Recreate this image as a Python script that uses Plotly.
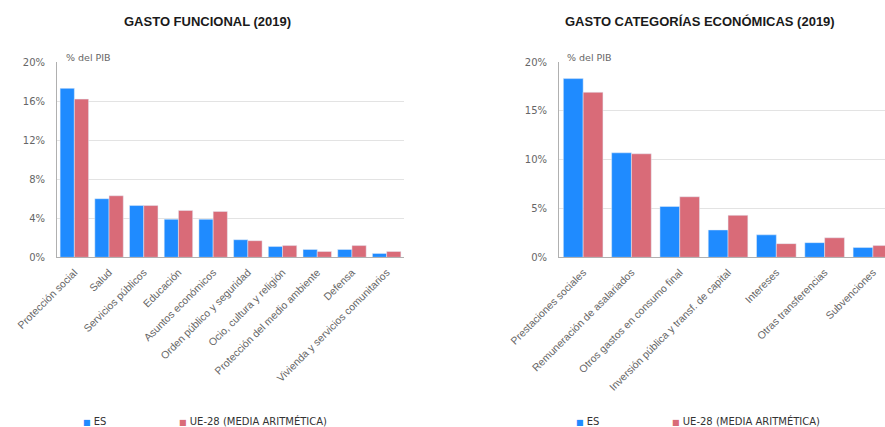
import plotly.graph_objects as go

# Functional spending, % of GDP (2019)
func_categories = [
    "Protección social", "Salud", "Servicios públicos", "Educación",
    "Asuntos económicos", "Orden público y seguridad", "Ocio, cultura y religión",
    "Protección del medio ambiente", "Defensa", "Vivienda y servicios comunitarios",
]
func_es = [17.3, 6.0, 5.3, 3.9, 3.9, 1.8, 1.1, 0.8, 0.8, 0.4]
func_ue = [16.2, 6.3, 5.3, 4.8, 4.7, 1.7, 1.2, 0.6, 1.2, 0.6]

# Spending by economic category, % of GDP (2019)
econ_categories = [
    "Prestaciones sociales", "Remuneración de asalariados",
    "Otros gastos en consumo final", "Inversión pública y transf. de capital",
    "Intereses", "Otras transferencias", "Subvenciones",
]
econ_es = [18.3, 10.7, 5.2, 2.8, 2.3, 1.5, 1.0]
econ_ue = [16.9, 10.6, 6.2, 4.3, 1.4, 2.0, 1.2]

func_ticks = [0, 4, 8, 12, 16, 20]
econ_ticks = [0, 5, 10, 15, 20]

series_names = ["ES", "UE-28 (MEDIA ARITMÉTICA)"]
BLUE = "#1f8bff"
RED = "#d96b78"
FONT = "Liberation Sans, Arial, sans-serif"
WIDE_FONT = "DejaVu Sans, Verdana, sans-serif"
TICK_COLOR = "#666666"

W, H = 885, 427

fig = go.Figure()

fig.add_trace(go.Bar(x=func_categories, y=func_es, name=series_names[0], showlegend=False,
                     marker_color=BLUE, xaxis="x", yaxis="y"))
fig.add_trace(go.Bar(x=func_categories, y=func_ue, name=series_names[1], showlegend=False,
                     marker_color=RED, xaxis="x", yaxis="y"))
fig.add_trace(go.Bar(x=econ_categories, y=econ_es, name=series_names[0], showlegend=False,
                     marker_color=BLUE, xaxis="x2", yaxis="y2"))
fig.add_trace(go.Bar(x=econ_categories, y=econ_ue, name=series_names[1], showlegend=False,
                     marker_color=RED, xaxis="x2", yaxis="y2"))

# Legend entries: a small coloured square glyph right before the series name,
# one legend box per entry so each can be placed under its chart
legend_keys = [
    ("legend", series_names[0], BLUE, "x", "y"),
    ("legend2", series_names[1], RED, "x", "y"),
    ("legend3", series_names[0], BLUE, "x2", "y2"),
    ("legend4", series_names[1], RED, "x2", "y2"),
]
for leg, name, color, xa, ya in legend_keys:
    label = f"<span style='color:{color};font-size:8px'>■</span> {name}"
    fig.add_trace(go.Scatter(x=[None], y=[None], mode="markers", name=label,
                             marker=dict(symbol="square", size=0.1, color="rgba(0,0,0,0)"),
                             xaxis=xa, yaxis=ya, legend=leg, showlegend=True))

y_dom = [(H - 257.3) / H, (H - 62.0) / H]

xaxis_common = dict(
    tickangle=-45, tickfont=dict(size=10.5, color=TICK_COLOR, family=FONT),
    showline=True, linecolor="#b0b0b0", linewidth=1, showgrid=False,
    ticks="", fixedrange=True, automargin=False, ticklabelstandoff=4,
)
yaxis_common = dict(
    range=[0, 20], showgrid=True, gridcolor="#e3e3e3",
    showline=True, linecolor="#b0b0b0", linewidth=1, zeroline=False,
    tickfont=dict(size=10, color=TICK_COLOR, family=WIDE_FONT), ticks="",
    ticklabelstandoff=9, domain=y_dom, automargin=False, tickmode="array",
)

legend_common = dict(
    orientation="h", xanchor="left", yanchor="middle", itemwidth=30,
    font=dict(size=10, color="#333333", family=WIDE_FONT), bgcolor="rgba(0,0,0,0)",
    tracegroupgap=0,
)
leg_y = (H - 421) / H

fig.update_layout(
    width=W, height=H,
    margin=dict(l=0, r=0, t=0, b=0, autoexpand=False),
    paper_bgcolor="white", plot_bgcolor="white",
    barmode="group", bargap=0.18, bargroupgap=0.0,
    font=dict(family=FONT, color="#333333"),
    xaxis=dict(domain=[57 / W, 404 / W], range=[-0.5, 9.5], **xaxis_common),
    yaxis=dict(anchor="x", tickvals=func_ticks, ticktext=[f"{v}%" for v in func_ticks],
               **yaxis_common),
    xaxis2=dict(domain=[559 / W, 1.0], range=[-0.5, 6.25], anchor="y2", **xaxis_common),
    yaxis2=dict(anchor="x2", tickvals=econ_ticks, ticktext=[f"{v}%" for v in econ_ticks],
                **yaxis_common),
    legend=dict(x=43 / W, y=leg_y, **legend_common),
    legend2=dict(x=139 / W, y=leg_y, **legend_common),
    legend3=dict(x=536 / W, y=leg_y, **legend_common),
    legend4=dict(x=632 / W, y=leg_y, **legend_common),
    showlegend=True,
)

# Chart titles and unit labels
fig.add_annotation(text="<b>GASTO FUNCIONAL (2019)</b>", x=207 / W, y=(H - 22) / H,
                   xref="paper", yref="paper", xanchor="center", yanchor="middle",
                   showarrow=False, font=dict(size=13, color="#1a1a1a", family=FONT))
fig.add_annotation(text="<b>GASTO CATEGORÍAS ECONÓMICAS (2019)</b>", x=700 / W, y=(H - 22) / H,
                   xref="paper", yref="paper", xanchor="center", yanchor="middle",
                   showarrow=False, font=dict(size=13, color="#1a1a1a", family=FONT))
fig.add_annotation(text="% del PIB", x=64 / W, y=(H - 57) / H, xref="paper", yref="paper",
                   xanchor="left", yanchor="middle", showarrow=False,
                   font=dict(size=9.5, color=TICK_COLOR, family=WIDE_FONT))
fig.add_annotation(text="% del PIB", x=565 / W, y=(H - 57) / H, xref="paper", yref="paper",
                   xanchor="left", yanchor="middle", showarrow=False,
                   font=dict(size=9.5, color=TICK_COLOR, family=WIDE_FONT))

fig.write_html("out.html")
